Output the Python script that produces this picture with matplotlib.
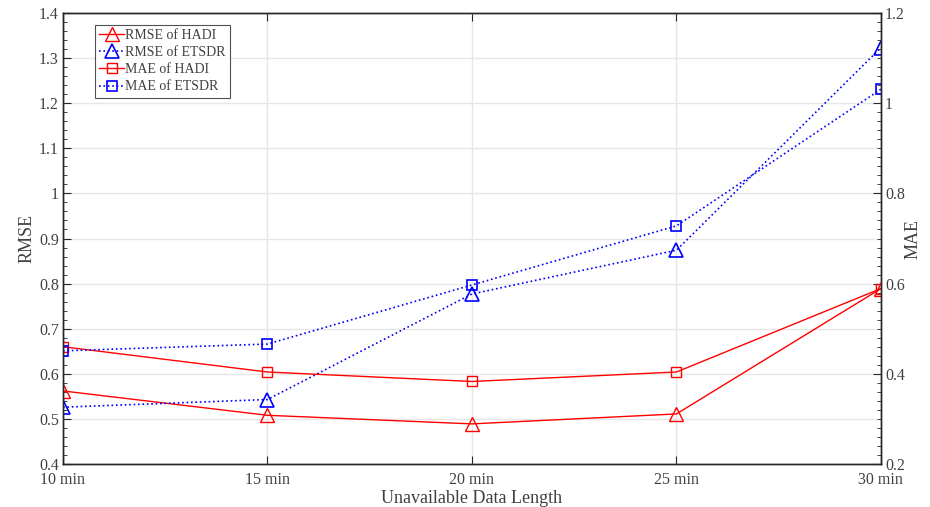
import numpy as np
from matplotlib import pyplot as plt
from matplotlib.ticker import MultipleLocator

plt.rcParams['font.family'] = ['Liberation Serif', 'DejaVu Serif']

# data
x_labels = ['10 min', '15 min', '20 min', '25 min', '30 min']
rmse_hadi = [0.562, 0.508, 0.489, 0.511, 0.789]
rmse_etsdr = [0.526, 0.543, 0.777, 0.874, 1.323]
mae_hadi = [0.460, 0.404, 0.383, 0.404, 0.589]
mae_etsdr = [0.451, 0.466, 0.597, 0.728, 1.031]
rmse_ticks = ['0.4', '0.5', '0.6', '0.7', '0.8', '0.9', '1', '1.1', '1.2', '1.3', '1.4']
mae_ticks = ['0.2', '0.4', '0.6', '0.8', '1', '1.2']

x = np.arange(len(x_labels))
txt = '#404040'

fig = plt.figure(figsize=(9.3, 5.07), dpi=100)
ax = fig.add_axes([0.0677, 0.0848, 0.8795, 0.8895])
ax2 = ax.twinx()

l1, = ax.plot(x, rmse_hadi, '-', color='red', lw=1, marker='^', ms=10, mfc='none', mew=1, label='RMSE of HADI')
l2, = ax.plot(x, rmse_etsdr, ':', color='blue', lw=1.2, marker='^', ms=10, mfc='none', mew=1.2, label='RMSE of ETSDR')
l3, = ax2.plot(x, mae_hadi, '-', color='red', lw=1, marker='s', ms=7, mfc='none', mew=1, label='MAE of HADI')
l4, = ax2.plot(x, mae_etsdr, ':', color='blue', lw=1.2, marker='s', ms=7, mfc='none', mew=1.2, label='MAE of ETSDR')

ax.set_xlim(0, 4)
ax.set_ylim(0.4, 1.4)
ax2.set_ylim(0.2, 1.2)

ax.set_xticks(x)
ax.set_xticklabels(x_labels)
ax.set_yticks(np.arange(0.4, 1.41, 0.1))
ax.set_yticklabels(rmse_ticks)
ax.yaxis.set_minor_locator(MultipleLocator(0.02))
ax2.set_yticks(np.arange(0.2, 1.21, 0.2))
ax2.set_yticklabels(mae_ticks)
ax2.yaxis.set_minor_locator(MultipleLocator(0.02))

ax.tick_params(axis='both', which='both', direction='in', colors='#262626', labelcolor=txt, labelsize=11.5)
ax.tick_params(axis='x', top=True, length=6, pad=5.5)
ax.tick_params(axis='y', which='major', length=6, pad=3)
ax.tick_params(axis='y', which='minor', length=3)
ax2.tick_params(axis='y', which='both', direction='in', colors='#262626', labelcolor=txt, labelsize=11.5)
ax2.tick_params(axis='y', which='major', length=6, pad=3)
ax2.tick_params(axis='y', which='minor', length=3)

ax.grid(True, which='major', color='#e6e6e6', lw=1)
ax.set_axisbelow(True)
for a in (ax, ax2):
    for s in a.spines.values():
        s.set_color('#262626')
        s.set_linewidth(1)

ax.set_xlabel('Unavailable Data Length', fontsize=13, color=txt)
ax.set_ylabel('RMSE', fontsize=13, color=txt)
ax2.set_ylabel('MAE', fontsize=13, color=txt)
ax.xaxis.set_label_coords(0.5, -0.076)
ax.yaxis.set_label_coords(-0.044, 0.5)
ax2.yaxis.set_label_coords(1.039, 0.5)
ax.xaxis.label.set_va('center')
ax.yaxis.label.set_va('center')
ax2.yaxis.label.set_va('center')

leg = ax.legend(handles=[l1, l2, l3, l4], loc='upper left', bbox_to_anchor=(0.039, 0.974),
                fontsize=10, frameon=True, fancybox=False, edgecolor='#262626',
                handlelength=1.8, handletextpad=0.1, borderpad=0.3, labelspacing=0.3,
                borderaxespad=0)
leg.get_frame().set_linewidth(0.8)
for t in leg.get_texts():
    t.set_color(txt)

fig.savefig('out.png', dpi=100)
